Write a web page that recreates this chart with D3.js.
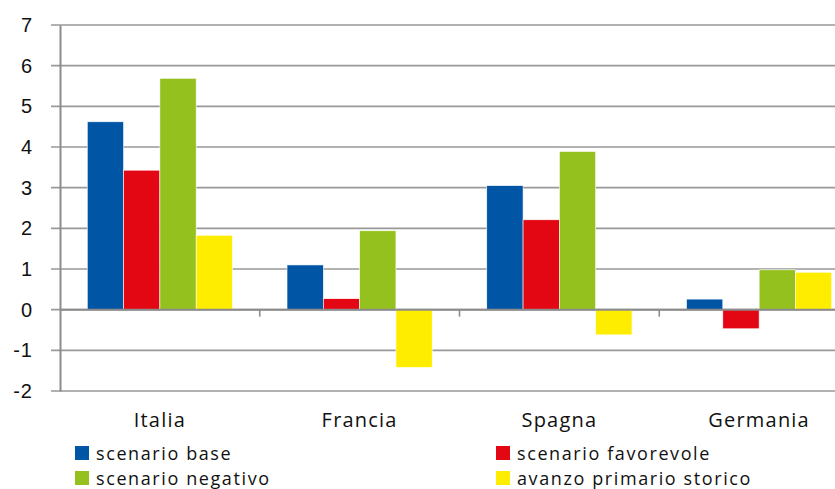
<!DOCTYPE html>
<html>
<head>
<meta charset="utf-8">
<script src="https://cdn.jsdelivr.net/npm/d3@7"></script>
<style>
  html, body { margin: 0; padding: 0; background: #fff; }
  svg { display: block; font-family: "Open Sans", "DejaVu Sans", sans-serif; }
</style>
</head>
<body>
<svg id="chart" width="835" height="489"></svg>
<script>
// Countries on the x axis
const categories = ["Italia", "Francia", "Spagna", "Germania"];

// Series (one value per country, in percent)
const seriesNames = ["scenario base", "scenario favorevole", "scenario negativo", "avanzo primario storico"];
const scenarioBase = [4.62, 1.10, 3.05, 0.26];
const scenarioFavorevole = [3.43, 0.27, 2.21, -0.47];
const scenarioNegativo = [5.69, 1.94, 3.89, 0.98];
const avanzoPrimarioStorico = [1.83, -1.42, -0.62, 0.92];
const seriesColors = ["#0055a4", "#e30613", "#95c11f", "#ffed00"];

// Y axis ticks
const yTicks = [-2, -1, 0, 1, 2, 3, 4, 5, 6, 7];

const seriesValues = [scenarioBase, scenarioFavorevole, scenarioNegativo, avanzoPrimarioStorico];

const svg = d3.select("#chart");
const plot = { left: 60, top: 25, bottom: 391, right: 859 };

const y = d3.scaleLinear().domain([-2, 7]).range([plot.bottom, plot.top]);
const x0 = d3.scaleBand().domain(categories).range([plot.left, plot.right]).paddingInner(0.273).paddingOuter(0.1365);
const x1 = d3.scaleBand().domain(d3.range(seriesNames.length)).range([0, x0.bandwidth()]);
const xGroup = d3.scaleBand().domain(categories).range([plot.left, plot.right]);

// Horizontal gridlines with short ticks on the left
const grid = svg.append("g").attr("class", "grid");
grid.selectAll("line").data(yTicks).join("line")
  .attr("x1", plot.left - 9).attr("x2", 835)
  .attr("y1", d => y(d)).attr("y2", d => y(d))
  .attr("stroke", "#999").attr("stroke-width", 1.6);

// Bars
const groups = svg.append("g").selectAll("g").data(categories).join("g")
  .attr("transform", c => `translate(${x0(c)},0)`);
groups.selectAll("rect")
  .data((c, ci) => seriesValues.map((vals, si) => ({ si, v: vals[ci] })))
  .join("rect")
  .attr("x", d => x1(d.si))
  .attr("width", x1.bandwidth())
  .attr("y", d => y(Math.max(0, d.v)))
  .attr("height", d => Math.abs(y(d.v) - y(0)))
  .attr("fill", d => seriesColors[d.si])
  .attr("stroke", "#fff").attr("stroke-width", 0.6);

// Zero line and category separators
svg.append("line")
  .attr("x1", plot.left).attr("x2", 835)
  .attr("y1", y(0)).attr("y2", y(0))
  .attr("stroke", "#8c8c8c").attr("stroke-width", 2);
svg.append("g").selectAll("line").data(categories.slice(1)).join("line")
  .attr("x1", c => xGroup(c)).attr("x2", c => xGroup(c))
  .attr("y1", y(0)).attr("y2", y(0) + 7)
  .attr("stroke", "#8c8c8c").attr("stroke-width", 1.6);

// Y axis (plain hyphen for negatives)
const yAxis = d3.axisLeft(y).tickValues(yTicks).tickSize(0).tickPadding(27)
  .tickFormat(d => String(d));
const ya = svg.append("g").attr("transform", `translate(${plot.left},0)`).call(yAxis);
ya.select(".domain").attr("stroke", "#8c8c8c").attr("stroke-width", 2);
ya.selectAll("text").attr("font-size", 20).attr("fill", "#111").attr("letter-spacing", 1);

// Category labels
svg.append("g").selectAll("text").data(categories).join("text")
  .attr("x", c => xGroup(c) + xGroup.bandwidth() / 2)
  .attr("y", 427)
  .attr("text-anchor", "middle")
  .attr("font-size", 20).attr("fill", "#111").attr("letter-spacing", 1.2)
  .text(c => c);

// Legend in two columns
const legendPos = [[75, 460], [496, 460], [75, 485], [496, 485]];
const legendOrder = [0, 1, 2, 3];
const lg = svg.append("g").selectAll("g").data(legendOrder).join("g")
  .attr("transform", (d, i) => `translate(${legendPos[i][0]},${legendPos[i][1]})`);
lg.append("rect").attr("x", 0).attr("y", -14).attr("width", 14).attr("height", 14)
  .attr("fill", d => seriesColors[d]);
lg.append("text").attr("x", 21).attr("y", 0)
  .attr("font-size", 18).attr("fill", "#111").attr("letter-spacing", 1.6)
  .text(d => seriesNames[d]);
</script>
</body>
</html>
